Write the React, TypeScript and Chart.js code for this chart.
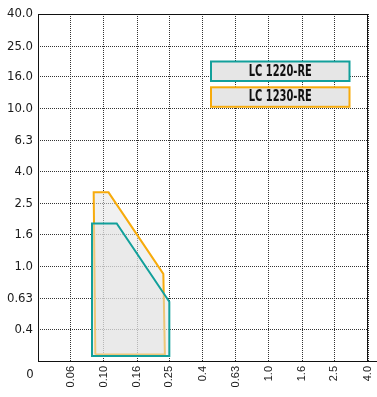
import React, { useEffect, useRef } from "react";
import { Chart, registerables } from "chart.js";
Chart.register(...registerables);

const seriesNames = ["LC 1220-RE", "LC 1230-RE"];
const seriesColors = ["#12a09b", "#f7ab0c"];

// polygon outlines (x: value, y: value), closed
const lc1220X = [0.086, 0.085, 0.12, 0.25, 0.25, 0.086];
const lc1220Y = [0.272, 1.88, 1.88, 0.6, 0.272, 0.272];
const lc1230X = [0.089, 0.087, 0.107, 0.23, 0.235, 0.089];
const lc1230Y = [0.278, 2.96, 2.96, 0.9, 0.278, 0.278];

const xTickValues = [0.04, 0.063, 0.1, 0.16, 0.25, 0.4, 0.63, 1.0, 1.6, 2.5, 4.0];
const xTickLabels = ["0", "0.06", "0.10", "0.16", "0.25", "0.4", "0.63", "1.0", "1.6", "2.5", "4.0"];
const yTickValues = [0.2524, 0.4, 0.63, 1.0, 1.6, 2.5, 4.0, 6.3, 10, 16, 25, 40];
const yTickLabels = ["0", "0.4", "0.63", "1.0", "1.6", "2.5", "4.0", "6.3", "10.0", "16.0", "25.0", "40.0"];

const NARROW = '"Liberation Sans Narrow", "DejaVu Sans Condensed", sans-serif';
const REGULAR = '"Liberation Sans", Arial, sans-serif';

function pts(xs: number[], ys: number[]) {
  return xs.map((x, i) => ({ x, y: ys[i] }));
}

const framePlugin = {
  id: "frame",
  afterDraw(chart: any) {
    const { ctx, chartArea } = chart;
    const { left, right, top, bottom } = chartArea;
    ctx.save();
    ctx.strokeStyle = "#111";
    ctx.lineWidth = 1;
    ctx.setLineDash([]);
    ctx.beginPath();
    ctx.moveTo(left + 0.5, top);
    ctx.lineTo(left + 0.5, bottom + 0.5);
    ctx.moveTo(left, top + 0.5);
    ctx.lineTo(right, top + 0.5);
    ctx.moveTo(right - 0.5, top);
    ctx.lineTo(right - 0.5, bottom);
    ctx.moveTo(left, bottom + 0.5);
    ctx.lineTo(chart.width, bottom + 0.5);
    ctx.stroke();

    // origin label
    ctx.fillStyle = "#1a1a1a";
    ctx.font = "13px " + NARROW;
    ctx.textAlign = "center";
    ctx.textBaseline = "middle";
    ctx.fillText(yTickLabels[0], left - 8, bottom + 14);

    // legend boxes
    const bx = left + 173;
    const bw = 138.5;
    const bh = 19.5;
    const tops = [top + 47.5, top + 73.3];
    seriesNames.forEach((name, i) => {
      const by = tops[i];
      ctx.fillStyle = "#e6e6e6";
      ctx.fillRect(bx, by, bw, bh);
      ctx.strokeStyle = seriesColors[i];
      ctx.lineWidth = 2;
      ctx.strokeRect(bx, by, bw, bh);
      ctx.fillStyle = "#111";
      ctx.font = "bold 15px " + NARROW;
      ctx.textAlign = "center";
      ctx.textBaseline = "middle";
      const w = ctx.measureText(name).width;
      const sx = Math.min(1, 63 / w);
      ctx.save();
      ctx.translate(bx + bw / 2, by + bh / 2 + 0.5);
      ctx.scale(sx, 1);
      ctx.fillText(name, 0, 0);
      ctx.restore();
    });
    ctx.restore();
  },
};

export default function App() {
  const ref = useRef<HTMLCanvasElement | null>(null);
  useEffect(() => {
    document.body.style.margin = "0";
    const canvas = ref.current;
    if (!canvas) return;
    const chart = new Chart(canvas, {
      type: "line",
      data: {
        datasets: [
          {
            label: seriesNames[0],
            data: pts(lc1220X, lc1220Y),
            borderColor: seriesColors[0],
            backgroundColor: "rgba(228,228,228,0.5)",
            borderWidth: 2,
            fill: "shape",
            pointRadius: 0,
            tension: 0,
          },
          {
            label: seriesNames[1],
            data: pts(lc1230X, lc1230Y),
            borderColor: seriesColors[1],
            backgroundColor: "rgba(228,228,228,0.5)",
            borderWidth: 2,
            fill: "shape",
            pointRadius: 0,
            tension: 0,
          },
        ],
      },
      options: {
        animation: false,
        responsive: false,
        events: [],
        layout: { padding: { top: 14, right: 9, left: 0, bottom: 0 } },
        plugins: { legend: { display: false }, tooltip: { enabled: false } },
        scales: {
          x: {
            type: "logarithmic",
            min: xTickValues[0],
            max: xTickValues[xTickValues.length - 1],
            bounds: "data",
            afterBuildTicks: (s: any) => {
              s.ticks = xTickValues.map((v) => ({ value: v }));
            },
            afterFit: (s: any) => {
              s.height = 36;
              s.paddingLeft = 0;
              s.paddingRight = 0;
            },
            ticks: {
              autoSkip: false,
              maxRotation: 90,
              minRotation: 90,
              padding: 5,
              color: "#1a1a1a",
              font: { family: REGULAR, size: 11 },
              callback: (_v: any, i: number) => (i === 0 ? "" : xTickLabels[i]),
            },
            grid: { color: "#333", lineWidth: 1, drawTicks: false },
            border: { display: false, dash: [1, 1] },
          },
          y: {
            type: "logarithmic",
            min: yTickValues[0],
            max: yTickValues[yTickValues.length - 1],
            bounds: "data",
            afterBuildTicks: (s: any) => {
              s.ticks = yTickValues.map((v) => ({ value: v }));
            },
            afterFit: (s: any) => {
              s.width = 38;
              s.paddingTop = 0;
              s.paddingBottom = 0;
            },
            ticks: {
              autoSkip: false,
              padding: 5,
              color: "#1a1a1a",
              font: { family: NARROW, size: 13 },
              callback: (_v: any, i: number) => (i === 0 ? "" : yTickLabels[i]),
            },
            grid: { color: "#333", lineWidth: 1, drawTicks: false },
            border: { display: false, dash: [1, 1] },
          },
        },
      },
      plugins: [framePlugin],
    } as any);
    return () => chart.destroy();
  }, []);
  return (
    <div style={{ width: 377, height: 397 }}>
      <canvas ref={ref} width={377} height={397} style={{ display: "block" }} />
    </div>
  );
}
